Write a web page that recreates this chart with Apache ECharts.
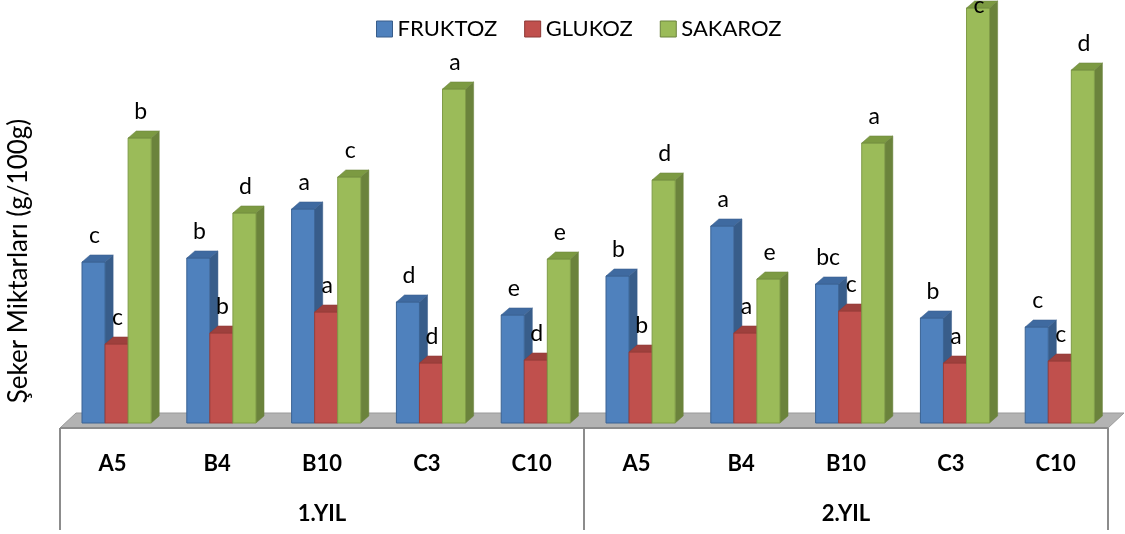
<!DOCTYPE html>
<html>
<head>
<meta charset="utf-8">
<script src="https://cdn.jsdelivr.net/npm/echarts@6/dist/echarts.min.js"></script>
<style>
  html, body { margin: 0; padding: 0; background: #fff; }
  #chart { width: 1125px; height: 534px; }
</style>
</head>
<body>
<div id="chart"></div>
<script>
// Sugar contents per variety, two years of measurement
const categories = ['A5', 'B4', 'B10', 'C3', 'C10', 'A5', 'B4', 'B10', 'C3', 'C10'];
const years = ['1.YIL', '2.YIL'];
const seriesNames = ['FRUKTOZ', 'GLUKOZ', 'SAKAROZ'];

const fruktoz = [1.61, 1.65, 2.14, 1.21, 1.08, 1.47, 1.97, 1.39, 1.05, 0.96];
const glukoz  = [0.79, 0.90, 1.11, 0.60, 0.63, 0.71, 0.90, 1.12, 0.60, 0.62];
const sakaroz = [2.85, 2.10, 2.46, 3.34, 1.64, 2.43, 1.44, 2.80, 4.15, 3.53];

// Significance letters shown above each bar
const fruktozLetters = ['c', 'b', 'a', 'd', 'e', 'b', 'a', 'bc', 'b', 'c'];
const glukozLetters  = ['c', 'b', 'a', 'd', 'd', 'b', 'a', 'c', 'a', 'c'];
const sakarozLetters = ['b', 'd', 'c', 'a', 'e', 'd', 'e', 'a', 'c', 'd'];

const FONT = 'Lato, "Open Sans", sans-serif';

const palette = [
  { front: '#4f81bd', side: '#385d8a', top: '#3f6aa0', line: '#3a6394' },
  { front: '#c0504d', side: '#8c3836', top: '#9e403d', line: '#9a3f3c' },
  { front: '#9bbb59', side: '#6b833c', top: '#7c9a42', line: '#7f9b47' }
];

// Draws one 3D column: front face, right side, top face and its letter
function makeBarRenderer(slot, letters) {
  const c = palette[slot];
  return function (params, api) {
    const cat = api.value(0);
    const val = api.value(1);
    const base = api.coord([cat, 0]);
    const tip = api.coord([cat, val]);
    const band = api.size([1, 0])[0];
    const w = band * 0.22;
    const x0 = base[0] - band * 0.29 + slot * w;
    const x1 = x0 + w;
    const yb = base[1];
    const yt = tip[1];
    const dx = band * 0.077;
    const dy = dx * 0.875;
    const labelY = Math.max(yt - 26, 6);
    return {
      type: 'group',
      children: [
        {
          type: 'polygon',
          shape: { points: [[x1, yb], [x1, yt], [x1 + dx, yt - dy], [x1 + dx, yb - dy]] },
          style: { fill: c.side, stroke: c.side, lineWidth: 0.5 }
        },
        {
          type: 'rect',
          shape: { x: x0, y: yt, width: w, height: yb - yt },
          style: { fill: c.front, stroke: c.line, lineWidth: 1 }
        },
        {
          type: 'polygon',
          shape: { points: [[x0, yt], [x1, yt], [x1 + dx, yt - dy], [x0 + dx, yt - dy]] },
          style: { fill: c.top, stroke: c.side, lineWidth: 0.5 }
        },
        {
          type: 'text',
          z2: 10,
          style: {
            text: letters[params.dataIndex],
            x: (x0 + x1) / 2 + 1,
            y: labelY,
            align: 'center',
            verticalAlign: 'middle',
            font: '23px ' + FONT,
            fill: '#000'
          }
        }
      ]
    };
  };
}

// Grey floor under all columns
function renderFloor(params, api) {
  const band = api.size([1, 0])[0];
  const first = api.coord([0, 0]);
  const last = api.coord([categories.length - 1, 0]);
  const L = first[0] - band / 2;
  const R = last[0] + band / 2;
  const yf = first[1] + 5;
  const yk = first[1] - 10;
  const d = 16;
  return {
    type: 'group',
    children: [
      {
        type: 'polygon',
        shape: { points: [[L, yf], [R, yf], [R + d, yk], [L + d, yk]] },
        style: { fill: '#b3b3b3', stroke: '#9a9a9a', lineWidth: 1 }
      },
      {
        type: 'line',
        shape: { x1: L, y1: yf, x2: R, y2: yf },
        style: { stroke: '#8c8c8c', lineWidth: 2 }
      }
    ]
  };
}

const values = [fruktoz, glukoz, sakaroz];
const letterSets = [fruktozLetters, glukozLetters, sakarozLetters];

const barSeries = seriesNames.map(function (name, i) {
  return {
    name: name,
    type: 'custom',
    xAxisIndex: 0,
    yAxisIndex: 0,
    clip: false,
    itemStyle: { color: palette[i].front },
    encode: { x: 0, y: 1 },
    data: values[i].map(function (v, k) { return [k, v]; }),
    renderItem: makeBarRenderer(i, letterSets[i])
  };
});

const chart = echarts.init(document.getElementById('chart'), null, { renderer: 'canvas' });

chart.setOption({
  animation: false,
  backgroundColor: '#ffffff',
  textStyle: { fontFamily: FONT },
  legend: {
    top: 13,
    left: 371,
    itemWidth: 16,
    itemHeight: 16,
    itemGap: 27,
    icon: 'rect',
    textStyle: { fontSize: 22, color: '#000', fontFamily: FONT },
    data: seriesNames.map(function (n, i) {
      return { name: n, itemStyle: { color: palette[i].front, borderColor: palette[i].side, borderWidth: 1 } };
    })
  },
  grid: { left: 60, right: 17, top: 3, bottom: 111, containLabel: false },
  xAxis: [
    {
      type: 'category',
      data: categories,
      boundaryGap: true,
      axisLine: { show: false },
      axisTick: { show: false },
      axisLabel: { margin: 30, fontSize: 22, fontWeight: 'bold', color: '#000', fontFamily: FONT, interval: 0 }
    },
    {
      type: 'category',
      data: years,
      position: 'bottom',
      offset: 107,
      boundaryGap: true,
      axisLine: { show: false },
      axisTick: { show: true, inside: true, length: 102, interval: 0, lineStyle: { color: '#8c8c8c', width: 2 } },
      axisLabel: { inside: true, margin: 5, fontSize: 22, fontWeight: 'bold', color: '#000', fontFamily: FONT, interval: 0 }
    }
  ],
  yAxis: { type: 'value', min: 0, max: 4.2, show: false },
  graphic: [
    {
      type: 'text',
      x: 19,
      y: 261,
      rotation: Math.PI / 2,
      style: {
        text: 'Şeker Miktarları (g/100g)',
        font: '26px ' + FONT,
        fill: '#000',
        align: 'center',
        verticalAlign: 'middle'
      }
    }
  ],
  series: [
    {
      name: 'floor',
      type: 'custom',
      clip: false,
      silent: true,
      encode: { x: 0, y: 1 },
      data: [[0, 0]],
      renderItem: renderFloor
    }
  ].concat(barSeries)
});
</script>
</body>
</html>
